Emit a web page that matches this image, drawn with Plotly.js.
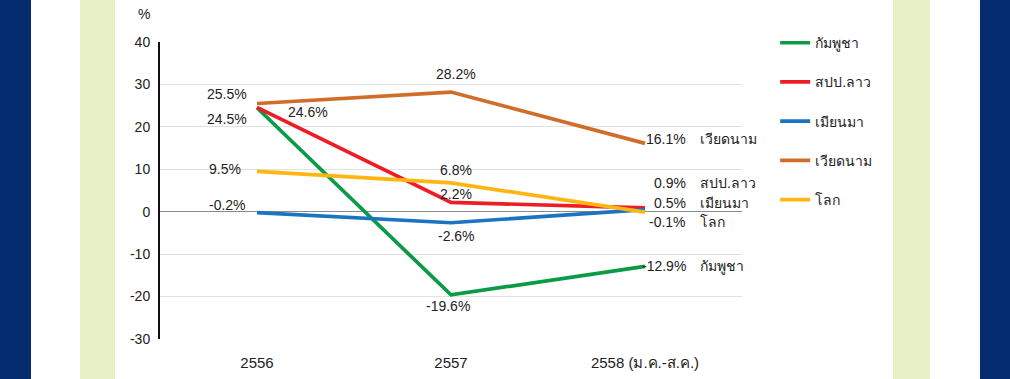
<!DOCTYPE html>
<html><head><meta charset="utf-8">
<script src="https://cdn.plot.ly/plotly-3.0.1.min.js"></script>
<style>
html,body{margin:0;padding:0;}
body{width:1010px;height:379px;overflow:hidden;
background:linear-gradient(to right,#042c6f 0px,#042c6f 31px,#ffffff 31px,#ffffff 80px,#e5f0c4 80px,#e5f0c4 115px,#ffffff 115px,#ffffff 893px,#e5f0c4 893px,#e5f0c4 930px,#ffffff 930px,#ffffff 980px,#042c6f 980px,#042c6f 1010px);}
#chart{width:1010px;height:379px;}
</style></head>
<body><div id="chart"></div>
<script>
// ---- data ----
const categories = ['2556', '2557', '2558 (ม.ค.-ส.ค.)'];
const seriesNames = ['กัมพูชา', 'สปป.ลาว', 'เมียนมา', 'เวียดนาม', 'โลก'];
const cambodia = [24.5, -19.6, -12.9];
const laos = [24.6, 2.2, 0.9];
const myanmar = [-0.2, -2.6, 0.5];
const vietnam = [25.5, 28.2, 16.1];
const world = [9.5, 6.8, -0.1];
const yTickVals = [-30, -20, -10, 0, 10, 20, 30, 40];

// ---- styles ----
const colors = ['#0b9a45', '#ee1c25', '#1b74c2', '#d06d2a', '#ffb612'];
const seriesValues = [cambodia, laos, myanmar, vietnam, world];
// label offsets (px) per series, per point: [xshift, yshift, xanchor]
const labelOffsets = [
  [[-30, -11, 'center'], [-3, -11, 'center'], [43, 0, 'right']],
  [[51, -5, 'center'], [5, 8, 'center'], [43, 25, 'right']],
  [[-30, 8, 'center'], [5, -13, 'center'], [43, 7, 'right']],
  [[-30, 10, 'center'], [5, 18, 'center'], [43, 4, 'right']],
  [[-32, 2, 'center'], [5, 13, 'center'], [43, -10, 'right']]
];
const FONT = 'Liberation Sans, Arial, Helvetica, sans-serif';

const traces = seriesValues.map((vals, i) => ({
  type: 'scatter', mode: 'lines',
  x: categories, y: vals, name: seriesNames[i],
  legendgroup: 'g' + i,
  line: {color: colors[i], width: 3.7},
  hoverinfo: 'skip'
}));

const annotations = [];
seriesValues.forEach((vals, i) => {
  vals.forEach((v, j) => {
    const o = labelOffsets[i][j];
    annotations.push({
      x: j, y: v, xref: 'x', yref: 'y',
      text: v.toFixed(1) + '%', showarrow: false,
      xanchor: o[2], yanchor: 'middle', xshift: o[0], yshift: o[1],
      font: {family: FONT, size: 14, color: '#222'}
    });
    if (j === vals.length - 1) {
      annotations.push({
        x: j, y: v, xref: 'x', yref: 'y',
        text: seriesNames[i], showarrow: false,
        xanchor: 'left', yanchor: 'middle', xshift: o[0] + 10, yshift: o[1],
        font: {family: FONT, size: 14, color: '#222'}
      });
    }
  });
});
annotations.push({
  x: -0.028, y: 1.093, xref: 'paper', yref: 'paper', text: '%', showarrow: false,
  xanchor: 'center', yanchor: 'middle', font: {family: FONT, size: 14, color: '#222'}
});

const layout = {
  width: 1010, height: 379,
  margin: {l: 160, r: 268, t: 42, b: 40, pad: 0},
  paper_bgcolor: 'rgba(0,0,0,0)', plot_bgcolor: '#ffffff',
  showlegend: true,
  legend: {
    x: 1.057, xanchor: 'left', xref: 'paper', y: 1.05, yanchor: 'top',
    font: {family: FONT, size: 14, color: '#222'},
    tracegroupgap: 18, bgcolor: 'rgba(0,0,0,0)', itemwidth: 30
  },
  xaxis: {
    type: 'category', range: [-0.5, 2.5], showgrid: false, zeroline: false,
    showline: false, ticks: '', ticklabelstandoff: 13,
    tickfont: {family: FONT, size: 15, color: '#222'}, fixedrange: true
  },
  yaxis: {
    range: [-30, 40], tickvals: yTickVals, ticktext: yTickVals.map(String),
    showgrid: true, gridcolor: '#e2e2e2', gridwidth: 1,
    zeroline: true, zerolinecolor: '#8a8a8a', zerolinewidth: 1,
    showline: true, linecolor: '#111', linewidth: 2, ticks: '',
    ticklabelstandoff: 5,
    tickfont: {family: FONT, size: 14, color: '#222'}, fixedrange: true
  },
  annotations: annotations
};

Plotly.newPlot('chart', traces, layout, {displayModeBar: false, staticPlot: true});
</script></body></html>
